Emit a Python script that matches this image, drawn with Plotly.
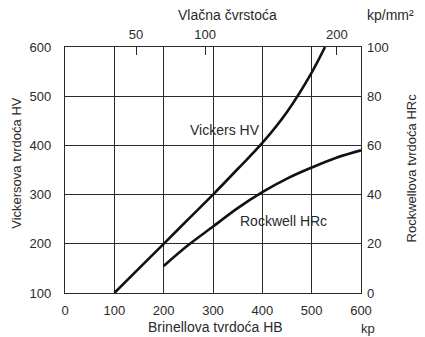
import plotly.graph_objects as go

# Data
vickers_hb = [100, 150, 200, 250, 300, 350, 400, 450, 500, 527]
vickers_hv = [100, 150, 200, 250, 300, 352, 405, 468, 548, 600]

rockwell_hb = [200, 250, 300, 350, 400, 450, 500, 550, 600]
rockwell_hrc = [11, 19.5, 27, 34.5, 41, 46.5, 51, 55, 58]

tensile_labels = ["50", "100", "200"]
tensile_hb_pos = [144, 284, 551]

x_ticks = [0, 100, 200, 300, 400, 500, 600]
hv_ticks = [100, 200, 300, 400, 500, 600]
hrc_ticks = [0, 20, 40, 60, 80, 100]

FONT = "Liberation Sans, Arial, sans-serif"
TXT = "#2a2a2a"
GRID = "#2a2a2a"

fig = go.Figure()
fig.add_trace(go.Scatter(x=vickers_hb, y=vickers_hv, mode="lines",
                         line=dict(color="#111", width=2.6, shape="spline"),
                         showlegend=False, hoverinfo="skip"))
fig.add_trace(go.Scatter(x=rockwell_hb, y=rockwell_hrc, mode="lines", yaxis="y2",
                         line=dict(color="#111", width=2.6, shape="spline"),
                         showlegend=False, hoverinfo="skip"))
# dummy trace for top axis
fig.add_trace(go.Scatter(x=[0, 600], y=[100, 100], xaxis="x2", mode="lines",
                         line=dict(width=0), showlegend=False, hoverinfo="skip"))


def ann(text, x, y, size=14, angle=0, xref="paper", yref="paper"):
    return dict(text=text, xref=xref, yref=yref, x=x, y=y, xanchor="center",
                yanchor="middle", textangle=angle, showarrow=False,
                font=dict(size=size, color=TXT))


# page body has an 8px margin; figure is sized so the plot lands where the reference has it
fig.update_layout(
    width=417, height=329,
    margin=dict(l=57, r=64, t=39, b=44, autoexpand=False),
    paper_bgcolor="white", plot_bgcolor="white",
    font=dict(family=FONT, size=13, color=TXT),
    xaxis=dict(range=[0, 600], tickvals=x_ticks, showgrid=True, gridcolor=GRID,
               gridwidth=1.2, showline=True, linecolor=GRID, linewidth=1.3,
               mirror=True, ticks="", ticklabelstandoff=5, zeroline=False,
               automargin=False, tickfont=dict(size=13, color=TXT)),
    xaxis2=dict(range=[0, 600], overlaying="x", side="top", tickvals=tensile_hb_pos,
                ticktext=tensile_labels, ticks="inside", ticklen=8, tickwidth=1,
                tickcolor=GRID, showgrid=False, zeroline=False, showline=False,
                automargin=False, ticklabelstandoff=4, tickfont=dict(size=13, color=TXT)),
    yaxis=dict(range=[100, 600], tickvals=hv_ticks, showgrid=True, gridcolor=GRID,
               gridwidth=1.2, showline=True, linecolor=GRID, linewidth=1.3,
               mirror=True, ticks="", ticklabelstandoff=10, zeroline=False,
               automargin=False, tickfont=dict(size=13, color=TXT)),
    yaxis2=dict(range=[0, 100], tickvals=hrc_ticks, overlaying="y", side="right",
                showgrid=False, zeroline=False, showline=False, ticks="",
                automargin=False, ticklabelstandoff=5, tickfont=dict(size=13, color=TXT)),
    annotations=[
        ann("Vickersova tvrdoća HV", -0.165, 0.53, size=13, angle=-90),
        ann("Rockwellova tvrdoća HRc", 1.172, 0.51, size=13, angle=-90),
        ann("Brinellova tvrdoća HB", 0.51, -0.14),
        ann("kp", 1.025, -0.145, size=13),
        ann("Vlačna čvrstoća", 0.55, 1.13),
        ann("kp/mm²", 1.1, 1.13),
        ann("Vickers HV", 324, 432, xref="x", yref="y"),
        ann("Rockwell HRc", 442, 247, xref="x", yref="y"),
    ],
)

fig.write_html("out.html")
